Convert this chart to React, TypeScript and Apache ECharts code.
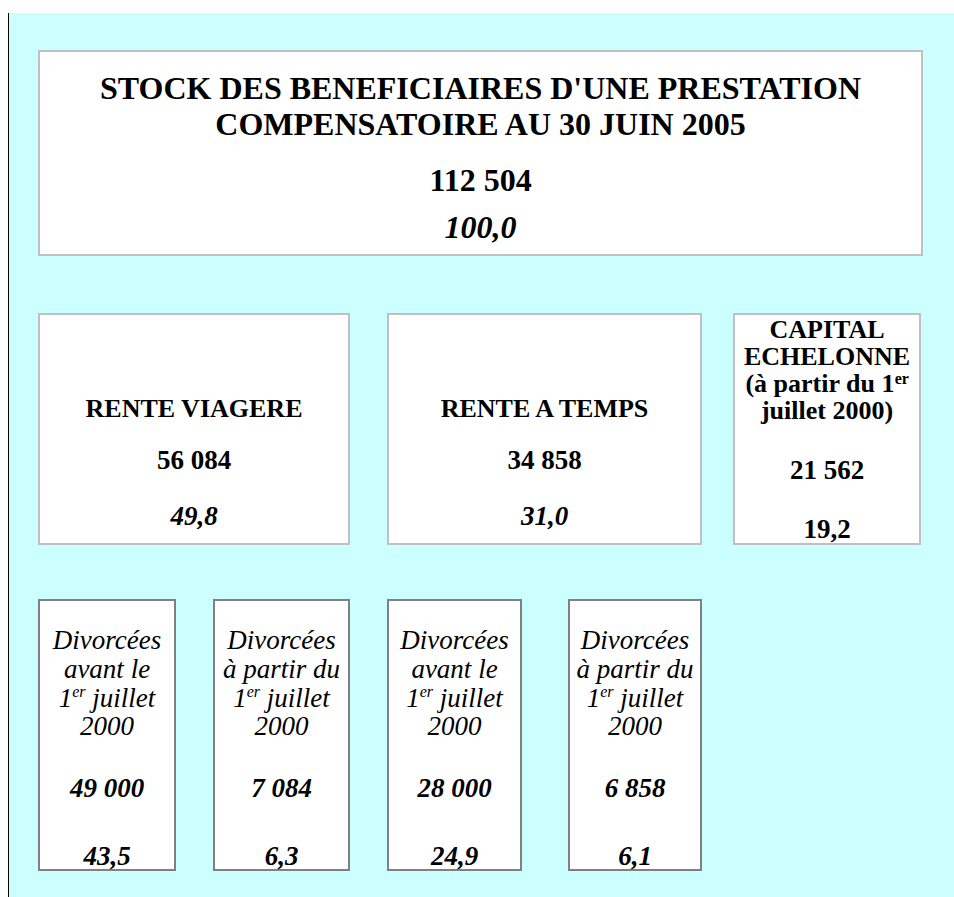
import React, { useEffect, useRef } from "react";
import * as echarts from "echarts";

// ---- Data ----
const titleLines = ["STOCK DES BENEFICIAIRES D'UNE PRESTATION", "COMPENSATOIRE AU 30 JUIN 2005"];
const totalCount = 112504;
const totalPct = 100.0;

const level2Labels = ["RENTE VIAGERE", "RENTE A TEMPS", "CAPITAL\nECHELONNE\n(à partir du 1{sup}\njuillet 2000)"];
const level2Counts = [56084, 34858, 21562];
const level2Pct = [49.8, 31.0, 19.2];

const level3Labels = [
  "Divorcées\navant le\n1{sup} juillet\n2000",
  "Divorcées\nà partir du\n1{sup} juillet\n2000",
  "Divorcées\navant le\n1{sup} juillet\n2000",
  "Divorcées\nà partir du\n1{sup} juillet\n2000",
];
const level3Counts = [49000, 7084, 28000, 6858];
const level3Pct = [43.5, 6.3, 24.9, 6.1];

const fmtInt = (n: number) => String(n).replace(/\B(?=(\d{3})+(?!\d))/g, " ");
const fmtPct = (n: number) => n.toFixed(1).replace(".", ",");

const FONT = "'Liberation Serif', 'Times New Roman', serif";

function richLabel(label: string, style: "bold" | "italic") {
  const lines = label.split("\n").map((l) => {
    const parts = l.split("{sup}");
    if (parts.length === 1) return `{m|${parts[0]}}`;
    return `{m|${parts[0]}}{s|er}{m|${parts[1]}}`;
  });
  const isBold = style === "bold";
  return {
    text: lines.join("\n"),
    rich: {
      m: {
        fontFamily: FONT,
        fontSize: isBold ? 26 : 27,
        fontWeight: isBold ? "bold" : "normal",
        fontStyle: isBold ? "normal" : "italic",
        lineHeight: isBold ? 27 : 28.7,
        fill: "#000",
      },
      s: {
        fontFamily: FONT,
        fontSize: 16,
        fontWeight: isBold ? "bold" : "normal",
        fontStyle: isBold ? "normal" : "italic",
        lineHeight: 16,
        verticalAlign: "top",
        fill: "#000",
      },
    },
  };
}

function txt(x: number, y: number, text: string, size: number, weight: string, italic: boolean) {
  return {
    type: "text",
    x,
    y,
    style: {
      text,
      fontFamily: FONT,
      fontSize: size,
      fontWeight: weight,
      fontStyle: italic ? "italic" : "normal",
      fill: "#000",
      align: "center",
      verticalAlign: "middle",
    },
    silent: true,
  };
}

function box(x1: number, y1: number, x2: number, y2: number, color: string) {
  return {
    type: "rect",
    shape: { x: x1 + 1, y: y1 + 1, width: x2 - x1 - 2, height: y2 - y1 - 2 },
    style: { fill: "#ffffff", stroke: color, lineWidth: 2 },
    silent: true,
  };
}

export default function App() {
  const ref = useRef<HTMLDivElement>(null);
  useEffect(() => {
    if (!ref.current) return;
    const chart = echarts.init(ref.current, null, { renderer: "svg" });

    const elements: any[] = [];
    // background
    elements.push({
      type: "rect",
      shape: { x: 9, y: 13, width: 945, height: 884 },
      style: { fill: "#CCFFFF" },
      silent: true,
    });
    elements.push({
      type: "line",
      shape: { x1: 8.5, y1: 13, x2: 8.5, y2: 897 },
      style: { stroke: "#000", lineWidth: 1 },
      silent: true,
    });

    // top box
    elements.push(box(38, 50, 923, 256, "#C0C0C0"));
    const topCx = 480.5;
    elements.push(txt(topCx, 88, titleLines[0], 32, "bold", false));
    elements.push(txt(topCx, 124, titleLines[1], 32, "bold", false));
    elements.push(txt(topCx, 180, fmtInt(totalCount), 32, "bold", false));
    elements.push(txt(topCx, 227, fmtPct(totalPct), 32, "bold", true));

    // level 2
    const l2Boxes = [
      [38, 350],
      [387, 702],
      [733, 921],
    ];
    l2Boxes.forEach(([a, b], i) => {
      elements.push(box(a, 313, b, 545, "#C0C0C0"));
      const cx = (a + b) / 2;
      if (i < 2) {
        elements.push(txt(cx, 408, level2Labels[i], 26, "bold", false));
        elements.push(txt(cx, 460, fmtInt(level2Counts[i]), 27, "bold", false));
        elements.push(txt(cx, 516, fmtPct(level2Pct[i]), 27, "bold", true));
      } else {
        const r = richLabel(level2Labels[i], "bold");
        elements.push({
          type: "text",
          x: cx,
          y: 316,
          style: { ...r, align: "center", verticalAlign: "top" },
          silent: true,
        });
        elements.push(txt(cx, 470, fmtInt(level2Counts[i]), 27, "bold", false));
        elements.push(txt(cx, 529, fmtPct(level2Pct[i]), 27, "bold", false));
      }
    });

    // level 3
    const l3Boxes = [
      [38, 176],
      [213, 350],
      [387, 522],
      [568, 702],
    ];
    l3Boxes.forEach(([a, b], i) => {
      elements.push(box(a, 599, b, 871, "#808080"));
      const cx = (a + b) / 2;
      const r = richLabel(level3Labels[i], "italic");
      elements.push({
        type: "text",
        x: cx,
        y: 626,
        style: { ...r, align: "center", verticalAlign: "top" },
        silent: true,
      });
      elements.push(txt(cx, 788, fmtInt(level3Counts[i]), 27, "bold", true));
      elements.push(txt(cx, 856, fmtPct(level3Pct[i]), 27, "bold", true));
    });

    chart.setOption({
      animation: false,
      graphic: { elements },
    });
    return () => chart.dispose();
  }, []);

  return (
    <div
      ref={ref}
      style={{ position: "absolute", left: 0, top: 0, width: 954, height: 897 }}
    />
  );
}
